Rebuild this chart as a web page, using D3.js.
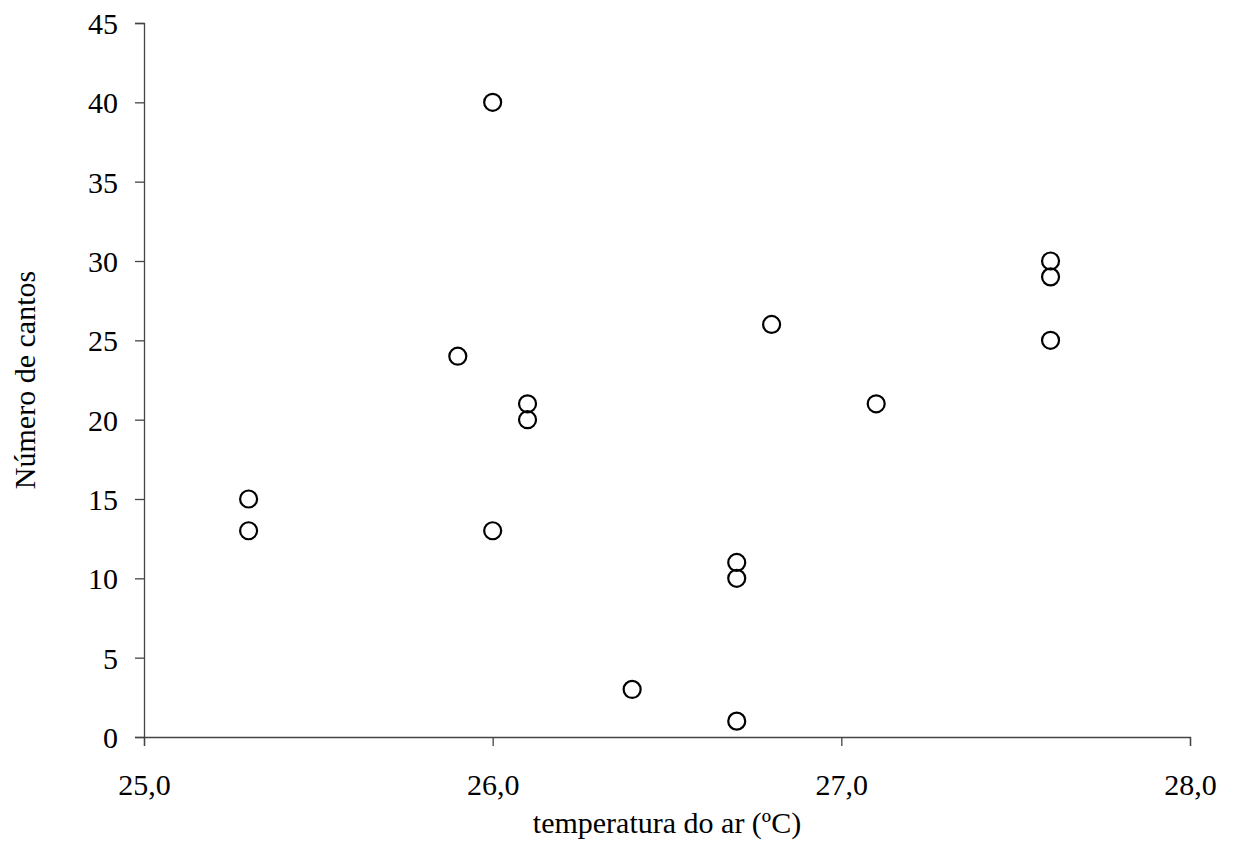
<!DOCTYPE html>
<html>
<head>
<meta charset="utf-8">
<script src="https://cdn.jsdelivr.net/npm/d3@7"></script>
<style>
  body { margin: 0; background: #fff; }
  svg { display: block; font-family: 'Liberation Serif', 'Times New Roman', serif; }
</style>
</head>
<body>
<svg width="1237" height="843"></svg>
<script>
const temps = [25.3, 25.3, 25.9, 26.0, 26.0, 26.1, 26.1, 26.4, 26.7, 26.7, 26.7, 26.8, 27.1, 27.6, 27.6, 27.6];
const cantos = [15, 13, 24, 40, 13, 21, 20, 3, 11, 10, 1, 26, 21, 30, 29, 25];
const xTicks = [25, 26, 27, 28];
const yTicks = [0, 5, 10, 15, 20, 25, 30, 35, 40, 45];

const svg = d3.select('svg');
const pad = { top: 23, left: 144, right: 47, bottom: 106 };
const width = 1237, height = 843;
const fontSize = 30;

const x = d3.scaleLinear().domain([25, 28]).range([pad.left, width - pad.right]);
const y = d3.scaleLinear().domain([0, 45]).range([height - pad.bottom, pad.top]);

const fmtX = d => d.toFixed(1).replace('.', ',');

const xAxis = svg.append('g')
  .attr('transform', `translate(0,${y(0)})`)
  .call(d3.axisBottom(x).tickValues(xTicks).tickFormat(fmtX).tickSize(9));

const yAxis = svg.append('g')
  .attr('transform', `translate(${x(25)},0)`)
  .call(d3.axisLeft(y).tickValues(yTicks).tickSize(9));

[xAxis, yAxis].forEach(a => {
  a.attr('font-family', null).attr('font-size', null);
  a.select('.domain').attr('stroke', '#444').attr('stroke-width', 1.3);
  a.selectAll('.tick line').attr('stroke', '#444').attr('stroke-width', 1.3);
  a.selectAll('.tick text')
    .attr('font-size', fontSize)
    .attr('fill', '#000');
});
xAxis.selectAll('.tick text').attr('y', 58).attr('dy', 0);
yAxis.selectAll('.tick text').attr('x', -26).attr('dy', '0.35em');

svg.append('text')
  .attr('x', (x(25) + x(28)) / 2)
  .attr('y', 833)
  .attr('text-anchor', 'middle')
  .attr('font-size', fontSize)
  .text('temperatura do ar (ºC)');

svg.append('text')
  .attr('transform', `translate(35,${(y(0) + y(45)) / 2}) rotate(-90)`)
  .attr('text-anchor', 'middle')
  .attr('font-size', fontSize)
  .text('Número de cantos');

svg.append('g')
  .selectAll('circle')
  .data(temps.map((t, i) => ({ t, c: cantos[i] })))
  .join('circle')
  .attr('cx', d => x(d.t))
  .attr('cy', d => y(d.c))
  .attr('r', 8.5)
  .attr('fill', 'none')
  .attr('stroke', '#000')
  .attr('stroke-width', 2.2);
</script>
</body>
</html>
